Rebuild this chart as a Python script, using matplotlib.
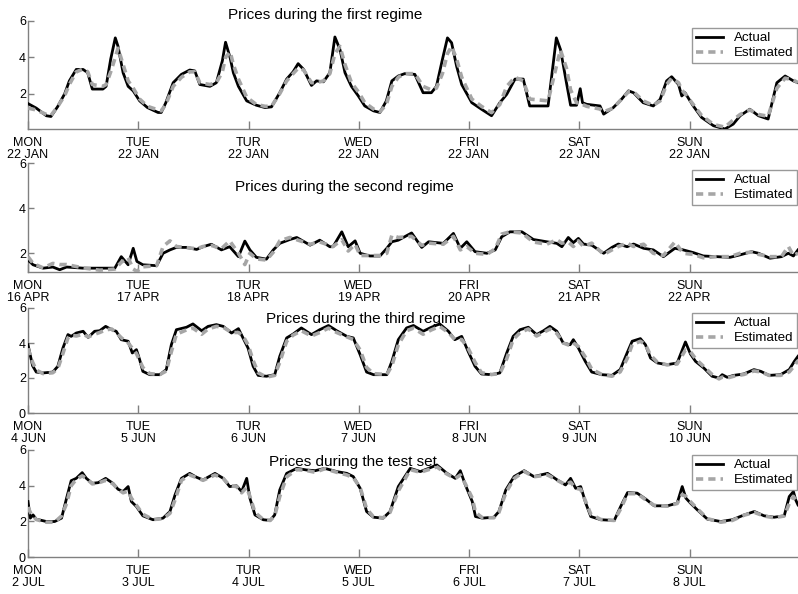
import matplotlib
matplotlib.use('Agg')
from matplotlib import pyplot as plt

plt.rcParams['font.family'] = ['Liberation Sans', 'DejaVu Sans']

days = ['MON', 'TUE', 'TUR', 'WED', 'FRI', 'SAT', 'SUN']
dates_1 = ['22 JAN'] * 7
dates_2 = ['16 APR', '17 APR', '18 APR', '19 APR', '20 APR', '21 APR', '22 APR']
dates_3 = ['4 JUN', '5 JUN', '6 JUN', '7 JUN', '8 JUN', '9 JUN', '10 JUN']
dates_4 = ['2 JUL', '3 JUL', '4 JUL', '5 JUL', '6 JUL', '7 JUL', '8 JUL']

titles = ['Prices during the first regime', 'Prices during the second regime',
          'Prices during the third regime', 'Prices during the test set']

# first regime (hours from monday 00:00)
hours_1 = [0, 1.8, 4, 5, 6.5, 8, 9, 10.5, 12, 13, 14, 16.3, 17, 18, 19, 19.6, 20.7, 21.8, 22.9,
           24.3, 26, 28.3, 29, 30, 31.6, 33.4, 35.2, 36.3, 37.4, 39.6, 41, 42.3, 43, 44, 44.7,
           45.8, 47.6, 49.7, 51.6, 53, 54.8, 56.3, 57.7, 58.8, 60, 61.7, 62.8, 64.3, 65.7, 66.8,
           67.9, 69, 70.4, 71.9, 73.3, 75.2, 76.6, 78, 79.2, 80.6, 82, 84.2, 86, 87.8, 88.9,
           90.2, 91.3, 92.2, 93.3, 94.4, 96.6, 98.7, 100.9, 102.7, 104.2, 106, 107.8, 109.2,
           113.2, 115, 115.9, 117.2, 118.1, 119.4, 120.2, 120.7, 121.6, 124.5, 125.3, 127.4,
           129.2, 130.7, 131.8, 133.9, 136.1, 137.6, 139, 140.1, 141.6, 142.3, 143, 144.8,
           146.6, 149.2, 151.7, 153.5, 155, 157.1, 159, 161.1, 163, 164.8, 166.6, 167.6]
actual_1 = [1.45, 1.2, 0.78, 0.74, 1.3, 2.0, 2.7, 3.33, 3.33, 3.15, 2.25, 2.25, 2.4, 3.9, 5.07,
            4.6, 3.15, 2.4, 2.15, 1.6, 1.23, 0.96, 0.96, 1.5, 2.6, 3.06, 3.3, 3.25, 2.5, 2.4,
            2.6, 3.8, 4.83, 3.97, 3.15, 2.4, 1.6, 1.36, 1.23, 1.27, 2.05, 2.8, 3.2, 3.65, 3.33,
            2.45, 2.7, 2.65, 3.15, 5.12, 4.43, 3.15, 2.4, 1.87, 1.32, 1.05, 0.96, 1.6, 2.7,
            2.97, 3.1, 3.06, 2.05, 2.05, 2.4, 3.88, 5.07, 4.8, 3.5, 2.5, 1.5, 1.14, 0.78, 1.5,
            1.96, 2.8, 2.8, 1.32, 1.32, 5.07, 4.43, 2.6, 1.36, 1.36, 2.27, 1.5, 1.41, 1.32,
            0.87, 1.23, 1.69, 2.15, 2.05, 1.5, 1.32, 1.69, 2.7, 2.93, 2.5, 1.87, 2.05, 1.32,
            0.69, 0.23, 0.05, 0.32, 0.78, 1.14, 0.78, 0.6, 2.6, 2.97, 2.7, 2.6]
estimated_1 = [1.2, 1.1, 0.85, 0.8, 1.3, 1.9, 2.5, 3.2, 3.35, 3.2, 2.5, 2.4, 2.5, 3.2, 4.0,
               4.5, 3.6, 2.7, 2.3, 1.7, 1.3, 1.1, 1.05, 1.4, 2.4, 2.9, 3.2, 3.2, 2.6, 2.5,
               2.6, 3.2, 4.0, 4.3, 3.6, 2.8, 1.8, 1.4, 1.3, 1.3, 2.0, 2.7, 3.1, 3.4, 3.3, 2.6,
               2.6, 2.7, 3.1, 4.2, 4.6, 3.6, 2.6, 2.1, 1.5, 1.15, 1.0, 1.4, 2.4, 2.9, 3.1,
               3.1, 2.4, 2.2, 2.3, 3.1, 4.2, 4.6, 3.9, 2.9, 1.7, 1.3, 0.95, 1.4, 2.4, 2.9,
               2.7, 1.7, 1.6, 3.5, 4.4, 3.4, 2.2, 1.5, 1.45, 1.4, 1.3, 1.15, 1.0, 1.2, 1.7,
               2.1, 2.1, 1.6, 1.35, 1.6, 2.5, 2.85, 2.6, 2.2, 2.0, 1.4, 0.8, 0.3, 0.15, 0.55,
               0.85, 1.1, 0.85, 0.75, 2.3, 2.85, 2.75, 2.6]

# second regime
hours_2 = [0, 1.1, 3.3, 5.4, 6.9, 8.4, 12, 15.6, 18.9, 20.3, 21.8, 22.9, 23.7, 25, 28, 29.4,
           30.9, 32.3, 34.5, 36.7, 38.1, 39.9, 42.1, 43.9, 45.8, 47.2, 48.3, 49.7, 51.9, 53.4,
           54.8, 57, 58.5, 61.4, 63.5, 65.7, 66.4, 68.3, 69.7, 71.2, 72.3, 74.4, 76.6, 78.1,
           79.2, 80.6, 83.5, 85.7, 87.2, 90.4, 92.6, 94.1, 95.5, 97.3, 99.9, 101.7, 103.1,
           104.9, 107.5, 110, 112.9, 115.1, 116.2, 117.6, 118.7, 119.8, 120.9, 122.7, 125.3,
           127.1, 128.5, 130.4, 131.8, 134, 136.1, 138.3, 140.8, 142.6, 144.8, 147, 149.9,
           152.8, 155, 157.5, 159, 161.5, 164, 165.5, 166.6, 167.6]
actual_2 = [1.7, 1.49, 1.34, 1.39, 1.27, 1.39, 1.34, 1.34, 1.34, 1.85, 1.49, 2.22, 1.64, 1.49,
            1.45, 2.0, 2.15, 2.26, 2.26, 2.17, 2.29, 2.4, 2.15, 2.29, 1.85, 2.54, 2.15, 1.82,
            1.74, 2.15, 2.44, 2.61, 2.7, 2.36, 2.58, 2.29, 2.29, 2.95, 2.29, 2.55, 2.0, 1.88,
            1.88, 2.22, 2.51, 2.58, 2.9, 2.26, 2.51, 2.44, 2.88, 2.22, 2.51, 2.07, 2.0, 2.15,
            2.73, 2.95, 2.95, 2.61, 2.51, 2.44, 2.29, 2.7, 2.47, 2.66, 2.41, 2.36, 2.0, 2.26,
            2.41, 2.29, 2.41, 2.22, 2.15, 1.85, 2.22, 2.15, 2.03, 1.88, 1.85, 1.82, 1.93, 2.07,
            2.0, 1.78, 1.85, 2.0, 1.88, 2.15]
estimated_2 = [1.85, 1.55, 1.35, 1.55, 1.5, 1.5, 1.35, 1.25, 1.3, 1.6, 1.8, 1.3, 1.2, 1.4,
               1.45, 2.3, 2.55, 2.3, 2.25, 2.2, 2.3, 2.35, 2.2, 2.55, 2.0, 1.5, 2.0, 1.75, 1.7,
               2.05, 2.55, 2.7, 2.6, 2.4, 2.5, 2.35, 2.3, 2.6, 2.1, 2.4, 1.9, 1.9, 1.9, 2.0,
               2.8, 2.7, 2.75, 2.35, 2.45, 2.4, 2.75, 2.15, 2.3, 2.0, 1.95, 2.2, 2.85, 2.95,
               2.9, 2.5, 2.4, 2.6, 2.45, 2.5, 2.3, 2.55, 2.3, 2.45, 1.95, 2.15, 2.3, 2.45, 2.3,
               2.4, 2.0, 1.9, 2.5, 2.0, 1.95, 1.8, 1.85, 1.85, 2.0, 2.05, 1.95, 1.85, 1.85,
               2.3, 1.9, 2.0]

# third regime
hours_3 = [0, 1, 1.8, 3.3, 5.4, 6.5, 7.6, 8.7, 9.4, 10.5, 12, 13.1, 14.5, 15.6, 16.9, 18.2,
           19.2, 20.3, 21.8, 22.7, 23.6, 24.3, 25, 26.5, 28.7, 30.1, 31.2, 32.3, 34.5, 35.9,
           37.8, 39.2, 41, 42.5, 44.3, 45.8, 46.8, 47.9, 49, 50.1, 51.9, 53.7, 54.8, 56.3,
           57.7, 59.5, 61.7, 63.5, 65.4, 67.2, 69.4, 70.8, 72.3, 73.7, 75.2, 78.1, 79.2, 80.6,
           82.4, 83.9, 86, 87.8, 89.6, 91.5, 92.9, 94.4, 95.8, 97.3, 98.7, 100.9, 102.7,
           104.2, 105.6, 107.1, 108.9, 110.7, 112.2, 113.6, 115.1, 116.5, 118, 118.7, 119.8,
           121.3, 122.7, 124.9, 127.1, 128.9, 130.4, 131.5, 133.3, 134.4, 135.5, 137, 139.1,
           141.3, 143.1, 144.2, 145.3, 147.1, 148.9, 150.4, 151.1, 152.2, 153.6, 155.8, 158,
           159.5, 161.3, 163.8, 165.7, 166.8, 167.6]
actual_3 = [3.9, 2.7, 2.34, 2.29, 2.34, 2.67, 3.71, 4.48, 4.38, 4.57, 4.67, 4.32, 4.67, 4.7,
            4.95, 4.76, 4.67, 4.19, 4.1, 3.43, 3.62, 3.05, 2.38, 2.19, 2.19, 2.48, 3.9, 4.76,
            4.9, 5.09, 4.7, 4.95, 5.05, 4.95, 4.57, 4.82, 4.29, 3.71, 2.67, 2.15, 2.1, 2.19,
            3.24, 4.29, 4.51, 4.86, 4.48, 4.76, 5.0, 4.7, 4.38, 4.29, 3.33, 2.34, 2.19, 2.19,
            2.95, 4.19, 4.86, 5.0, 4.67, 4.9, 5.09, 4.67, 4.19, 4.38, 3.52, 2.67, 2.23, 2.19,
            2.29, 3.43, 4.38, 4.76, 4.9, 4.48, 4.7, 4.95, 4.67, 4.0, 3.9, 4.19, 3.71, 2.95,
            2.34, 2.19, 2.15, 2.48, 3.43, 4.1, 4.25, 3.9, 3.14, 2.86, 2.76, 2.86, 4.06, 3.37,
            2.95, 2.57, 2.1, 2.0, 2.19, 2.04, 2.15, 2.23, 2.48, 2.38, 2.15, 2.19, 2.48, 2.95,
            3.24]
estimated_3 = [3.7, 2.9, 2.45, 2.25, 2.3, 2.55, 3.4, 4.3, 4.45, 4.4, 4.5, 4.35, 4.5, 4.6, 4.75,
               4.8, 4.6, 4.3, 4.0, 3.7, 3.4, 3.0, 2.6, 2.25, 2.2, 2.4, 3.5, 4.5, 4.75, 4.85,
               4.5, 4.8, 4.95, 4.9, 4.6, 4.6, 4.4, 3.9, 3.0, 2.3, 2.05, 2.15, 2.9, 4.1, 4.45,
               4.7, 4.4, 4.6, 4.85, 4.6, 4.35, 4.2, 3.6, 2.6, 2.25, 2.2, 2.7, 3.9, 4.7, 4.85,
               4.5, 4.75, 4.95, 4.6, 4.2, 4.2, 3.7, 2.9, 2.3, 2.2, 2.25, 3.1, 4.2, 4.6, 4.8,
               4.4, 4.6, 4.8, 4.55, 4.0, 3.85, 4.0, 3.8, 3.2, 2.5, 2.2, 2.1, 2.35, 3.1, 3.9,
               4.1, 3.9, 3.3, 2.9, 2.75, 2.8, 3.6, 3.5, 3.1, 2.65, 2.2, 1.95, 2.05, 2.0, 2.1,
               2.2, 2.4, 2.35, 2.15, 2.15, 2.35, 2.7, 3.0]

# test set
hours_4 = [0, 0.5, 1.1, 1.8, 4, 5.8, 7.3, 8.4, 9.4, 10.5, 11.8, 12.7, 14, 15.3, 16.9, 18.5,
           19.6, 20.7, 21.8, 22.5, 23.6, 25, 27.2, 29.4, 30.9, 32, 33.4, 35.2, 36.7, 38.1,
           40.7, 42.5, 43.9, 45.4, 46.5, 47.6, 48.3, 49.4, 51.2, 52.7, 53.7, 54.8, 56.3, 58.5,
           60.6, 62.5, 64.6, 67.2, 69.4, 70.8, 72.3, 73.7, 75.2, 77.3, 78.8, 80.6, 83.2, 85.4,
           87.2, 89, 91.2, 93, 94.1, 95.2, 96.7, 97.4, 98.9, 101.4, 102.5, 104, 105.8, 108,
           110.1, 113.1, 115.2, 117, 118.1, 119.2, 120.3, 121.4, 122.5, 124.7, 127.6, 129,
           130.5, 132.6, 134.5, 136.3, 139.2, 141.3, 142.4, 143.2, 144.2, 145.7, 147.9, 150.8,
           153.3, 155.9, 158.1, 160.2, 162.4, 164.6, 165.7, 166.6, 167.1, 167.6]
actual_4 = [3.11, 2.18, 2.36, 2.12, 1.99, 1.99, 2.18, 3.3, 4.28, 4.41, 4.73, 4.41, 4.13, 4.17,
            4.41, 4.13, 3.8, 3.67, 3.95, 3.11, 2.83, 2.31, 2.09, 2.18, 2.55, 3.48, 4.41, 4.69,
            4.47, 4.32, 4.69, 4.41, 3.95, 3.99, 3.67, 4.41, 3.3, 2.36, 2.09, 2.05, 2.36, 3.76,
            4.69, 4.97, 4.88, 4.84, 4.97, 4.79, 4.69, 4.51, 3.85, 2.55, 2.23, 2.18, 2.55, 3.95,
            4.97, 4.79, 4.97, 5.16, 4.69, 4.41, 4.84, 4.04, 3.11, 2.27, 2.18, 2.23, 2.55, 3.76,
            4.51, 4.84, 4.51, 4.69, 4.32, 4.04, 4.41, 3.85, 3.95, 3.02, 2.27, 2.09, 2.05, 2.83,
            3.61, 3.58, 3.24, 2.87, 2.87, 3.02, 3.95, 3.3, 3.02, 2.64, 2.12, 1.99, 2.09, 2.36,
            2.55, 2.31, 2.23, 2.31, 3.39, 3.67, 3.2, 2.92]
estimated_4 = [2.8, 2.5, 2.3, 2.1, 1.95, 1.95, 2.3, 3.0, 4.0, 4.35, 4.55, 4.4, 4.1, 4.15, 4.3,
               4.1, 3.8, 3.6, 3.7, 3.3, 2.9, 2.4, 2.1, 2.15, 2.45, 3.2, 4.3, 4.6, 4.45, 4.3,
               4.6, 4.4, 4.0, 3.95, 3.6, 3.9, 3.4, 2.5, 2.1, 2.05, 2.3, 3.4, 4.5, 4.9, 4.85,
               4.75, 4.95, 4.75, 4.6, 4.45, 3.9, 2.7, 2.25, 2.2, 2.5, 3.7, 4.9, 4.75, 4.9, 5.05,
               4.65, 4.4, 4.6, 4.1, 3.3, 2.5, 2.2, 2.2, 2.5, 3.6, 4.4, 4.8, 4.5, 4.6, 4.3, 4.05,
               4.2, 3.85, 3.8, 3.1, 2.4, 2.1, 2.05, 2.7, 3.55, 3.55, 3.2, 2.9, 2.85, 3.0, 3.5,
               3.4, 3.1, 2.7, 2.15, 1.95, 2.05, 2.35, 2.5, 2.3, 2.2, 2.3, 3.0, 3.4, 3.2, 3.0]

panels = [
    (hours_1, actual_1, estimated_1, dates_1, (0.05, 6), [2, 4, 6]),
    (hours_2, actual_2, estimated_2, dates_2, (1.17, 6), [2, 4, 6]),
    (hours_3, actual_3, estimated_3, dates_3, (0, 6), [0, 2, 4, 6]),
    (hours_4, actual_4, estimated_4, dates_4, (0, 6), [0, 2, 4, 6]),
]

# axes boxes in pixels (top, bottom) and title / legend positions
W, H = 798, 594
ax_rows = [(21, 129), (163, 272), (308, 413), (450, 557)]
title_pos = [(325, 15), (344, 187), (366, 319), (353, 462)]
legend_top = [28, 170, 313, 455]

GRAY = '#808080'

fig = plt.figure(figsize=(W / 100, H / 100), dpi=100)

for i, (hrs, act, est, dates, ylim, yticks) in enumerate(panels):
    top, bot = ax_rows[i]
    ax = fig.add_axes([28 / W, 1 - bot / H, 770 / W, (bot - top) / H])
    ax.patch.set_alpha(0)

    ax.plot(hrs, act, color='black', lw=2.0, label='Actual', zorder=3)
    ax.plot(hrs, est, color='#a6a6a6', lw=2.6, ls=(0, (2.0, 1.4)), label='Estimated', zorder=4)

    ax.set_xlim(0, 167.6)
    ax.set_ylim(*ylim)
    ax.set_xticks([24 * d for d in range(7)])
    ax.set_xticklabels([d + '\n' + dt for d, dt in zip(days, dates)], linespacing=1.05)
    ax.set_yticks(yticks)

    for side in ['top', 'right']:
        ax.spines[side].set_visible(False)
    for side in ['left', 'bottom']:
        ax.spines[side].set_color(GRAY)
        ax.spines[side].set_linewidth(1.0)
    ax.tick_params(axis='x', direction='in', length=5.5, width=1, color=GRAY,
                   labelsize=9, pad=5.5)
    ax.tick_params(axis='y', direction='in', length=4, width=1, color=GRAY,
                   labelsize=9, pad=1.5)

    tx, ty = title_pos[i]
    fig.text(tx / W, 1 - ty / H, titles[i], ha='center', va='center', fontsize=11)

    leg = ax.legend(loc='upper right', bbox_to_anchor=(797 / W, 1 - legend_top[i] / H),
                    bbox_transform=fig.transFigure, fontsize=9.6, frameon=True,
                    fancybox=False, borderpad=0.3, handlelength=2.0, handletextpad=0.8,
                    labelspacing=0.2, borderaxespad=0)
    leg.get_frame().set_edgecolor(GRAY)
    leg.get_frame().set_linewidth(1.0)

fig.savefig('out.png', dpi=100)
